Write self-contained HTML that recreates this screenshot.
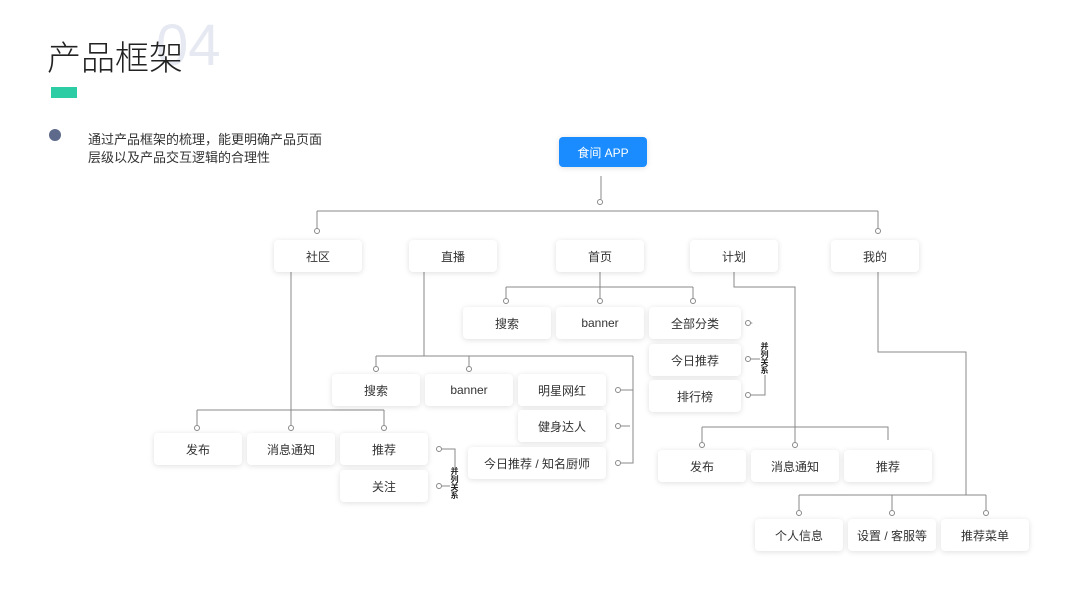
<!DOCTYPE html>
<html><head><meta charset="utf-8"><style>
body{margin:0;width:1066px;height:600px;background:#fff;position:relative;overflow:hidden;font-family:"Liberation Sans","Noto Sans CJK SC",sans-serif;}
.b{position:absolute;background:#fff;border-radius:4px;box-shadow:0 1px 6px rgba(0,0,0,0.13);font-size:12px;color:#333;display:flex;align-items:center;justify-content:center;height:32px;}
svg{position:absolute;left:0;top:0}
.v{position:absolute;font-size:8px;line-height:8px;width:9px;color:#222;font-weight:bold;text-align:center;background:#fff}
</style></head><body>
<div style="position:absolute;left:156px;top:14px;font-size:58px;color:#e6e9f2;font-weight:300;line-height:64px">04</div>
<div style="position:absolute;left:47px;top:35px;font-size:34px;color:#222;line-height:42px;font-family:'Noto Sans CJK SC',sans-serif;font-weight:300">产品框架</div>
<div style="position:absolute;left:51px;top:87px;width:26px;height:11px;background:#2ccda4"></div>
<div style="position:absolute;left:49px;top:129px;width:12px;height:12px;border-radius:50%;background:#5d6a8c"></div>
<div style="position:absolute;left:88px;top:131px;font-size:13px;color:#333;line-height:18px">通过产品框架的梳理，能更明确产品页面<br>层级以及产品交互逻辑的合理性</div>
<svg width="1066" height="600" fill="#fff" stroke="#888" stroke-width="1">
<path d="M601 176V199M317 211H878M317 211V228M878 211V228"/>
<circle cx="600" cy="202" r="2.5"/><circle cx="317" cy="231" r="2.5"/><circle cx="878" cy="231" r="2.5"/>
<path d="M600 272V298M506 287H693M506 287V298M693 287V298"/>
<circle cx="506" cy="301" r="2.5"/><circle cx="600" cy="301" r="2.5"/><circle cx="693" cy="301" r="2.5"/>
<path d="M751 323H765V395H751M751 359H765"/>
<circle cx="748" cy="323" r="2.5"/><circle cx="748" cy="359" r="2.5"/><circle cx="748" cy="395" r="2.5"/>
<path d="M424 272V356M376 356H633M376 356V366M469 356V366M633 356V463H621M621 390H633M621 426H630"/>
<circle cx="376" cy="369" r="2.5"/><circle cx="469" cy="369" r="2.5"/><circle cx="618" cy="390" r="2.5"/><circle cx="618" cy="426" r="2.5"/><circle cx="618" cy="463" r="2.5"/>
<path d="M291 272V425M197 410H384M197 410V425M384 410V425M442 449H455V486H442"/>
<circle cx="197" cy="428" r="2.5"/><circle cx="291" cy="428" r="2.5"/><circle cx="384" cy="428" r="2.5"/><circle cx="439" cy="449" r="2.5"/><circle cx="439" cy="486" r="2.5"/>
<path d="M734 272V287H795V442M702 427H888V440M702 427V442"/>
<circle cx="702" cy="445" r="2.5"/><circle cx="795" cy="445" r="2.5"/>
<path d="M878 272V352H966V495M799 495H986M799 495V510M892 495V510M986 495V510"/>
<circle cx="799" cy="513" r="2.5"/><circle cx="892" cy="513" r="2.5"/><circle cx="986" cy="513" r="2.5"/>
</svg>
<div class="b" style="left:559px;top:137px;width:88px;height:30px;background:#1a8cff;color:#fff">食间 APP</div>
<div class="b" style="left:274px;top:240px;width:88px">社区</div>
<div class="b" style="left:409px;top:240px;width:88px">直播</div>
<div class="b" style="left:556px;top:240px;width:88px">首页</div>
<div class="b" style="left:690px;top:240px;width:88px">计划</div>
<div class="b" style="left:831px;top:240px;width:88px">我的</div>
<div class="b" style="left:463px;top:307px;width:88px">搜索</div>
<div class="b" style="left:556px;top:307px;width:88px">banner</div>
<div class="b" style="left:649px;top:307px;width:92px">全部分类</div>
<div class="b" style="left:649px;top:344px;width:92px">今日推荐</div>
<div class="b" style="left:649px;top:380px;width:92px">排行榜</div>
<div class="v" style="left:760px;top:343px">并<br>列<br>关<br>系</div>
<div class="b" style="left:332px;top:374px;width:88px">搜索</div>
<div class="b" style="left:425px;top:374px;width:88px">banner</div>
<div class="b" style="left:518px;top:374px;width:88px">明星网红</div>
<div class="b" style="left:518px;top:410px;width:88px">健身达人</div>
<div class="b" style="left:468px;top:447px;width:138px">今日推荐 / 知名厨师</div>
<div class="b" style="left:154px;top:433px;width:88px">发布</div>
<div class="b" style="left:247px;top:433px;width:88px">消息通知</div>
<div class="b" style="left:340px;top:433px;width:88px">推荐</div>
<div class="b" style="left:340px;top:470px;width:88px">关注</div>
<div class="v" style="left:450px;top:468px">并<br>列<br>关<br>系</div>
<div class="b" style="left:658px;top:450px;width:88px">发布</div>
<div class="b" style="left:751px;top:450px;width:88px">消息通知</div>
<div class="b" style="left:844px;top:450px;width:88px">推荐</div>
<div class="b" style="left:755px;top:519px;width:88px">个人信息</div>
<div class="b" style="left:848px;top:519px;width:88px">设置 / 客服等</div>
<div class="b" style="left:941px;top:519px;width:88px">推荐菜单</div>
</body></html>
